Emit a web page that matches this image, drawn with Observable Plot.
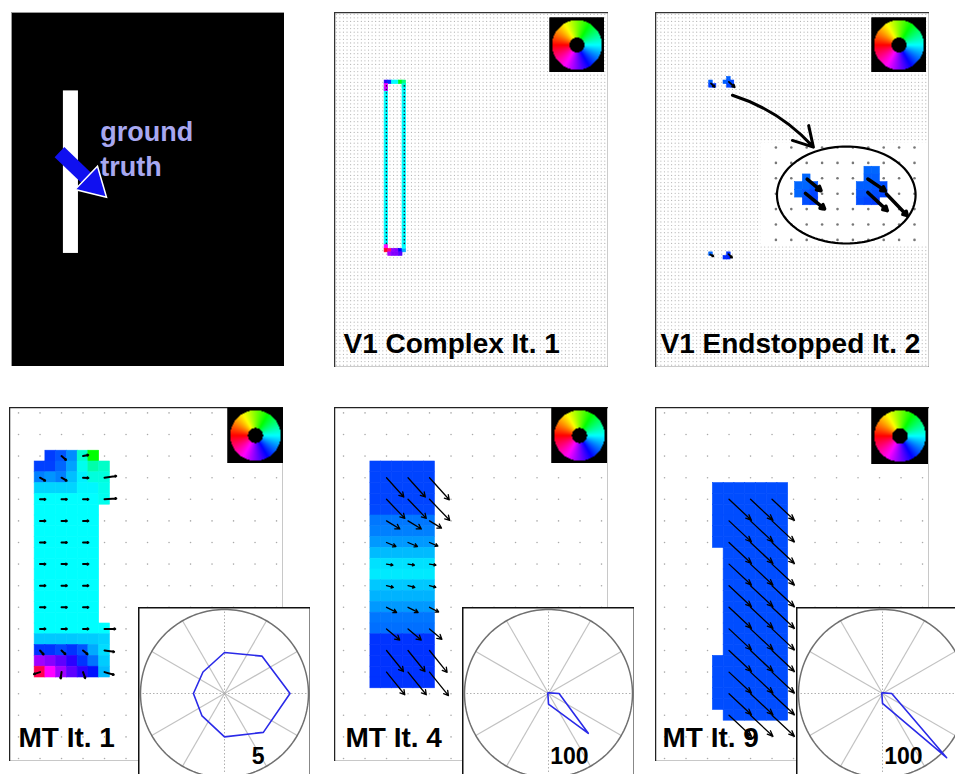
<!DOCTYPE html>
<html><head><meta charset="utf-8">
<script src="https://cdn.jsdelivr.net/npm/d3@7"></script>
<script src="https://cdn.jsdelivr.net/npm/@observablehq/plot@0.6"></script>
<style>
body{margin:0;background:#fff;}
#fig{position:relative;width:955px;height:774px;overflow:hidden;background:#fff;}
.pane{position:absolute;}
.pane svg{display:block;max-width:none;}
</style></head><body><div id="fig"></div>
<script>
// ================= DATA =================
const panelTitles = ["V1 Complex It. 1", "V1 Endstopped It. 2", "MT It. 1", "MT It. 4", "MT It. 9"];
const truthLabel = ["ground", "truth"];
const truthLabelAt = [24.8, 28.9];
// stimulus bar and its true motion (fine V1 grid units)
const barX = [14.5, 18.7];
const barY = [21.9, 67.3];
const truthTail = [13.4, 39.0];
const truthTip = [25.9, 51.0];

// V1 complex, iteration 1 : [col,row,direction in degrees]
const v1EdgeCols = [14, 19];
const v1EdgeRows = [20, 64];
const v1EdgeDir = 0;
const v1CapCells = [
  [14,19,-70],[15,19,-50],[16,19,0],[17,19,0],[18,19,55],[19,19,30],
  [14,20,-120],[14,21,-110],[19,20,10],
  [14,65,-120],[14,66,-170],[15,66,-150],[16,66,-95],[17,66,-90],[18,66,-60],[19,66,-20],[19,65,0],
  [15,67,-100],[16,67,-90],[17,67,-90],[18,67,-80]
];

// V1 endstopped, iteration 2
const esCells = [
  [15,19,-38],[15,20,-45],[16,20,-48],
  [20,18,-38],[19,19,-38],[20,19,-40],[21,19,-44],[20,20,-44],[21,20,-46],
  [15,67,-36],
  [20,67,-48],[19,68,-50],[20,68,-52]
];
const esArrows = [[15.5,19.8,-45,1.4],[20.5,19.4,-42,2.2],[15.3,67.6,-30,1.0],[20.4,67.5,-45,1.4]];
const esPointer = [[21.5, 23.1], [44.1, 37.6]];
// magnified view of the top end-stopped responses
const zoomCells = [
  [6,5,-36],[5,6,-36],[6,6,-36],[7,6,-40],[5,7,-36],[6,7,-40],[7,7,-44],[6,8,-42],[7,8,-46],
  [14,4,-36],[15,4,-36],[14,5,-38],[15,5,-38],
  [13,6,-38],[14,6,-38],[15,6,-40],[16,6,-42],[13,7,-40],[14,7,-40],[15,7,-42],[16,7,-44],
  [13,8,-42],[14,8,-44],[15,8,-46]
];
const zoomArrows = [[6.06,5.1,-40,2.35],[5.84,6.97,-39,3.2],[13.94,5.1,-34,2.75],[13.94,6.84,-43,3.46],[16.36,7.05,-46,3.9]];
const zoomEllipse = [11.14, 7.17, 9.0, 6.3];

// MT iteration 1 (rows 4..24, cols 2..8)
const mt1FirstRow = 4, mt1FirstCol = 2;
const mt1Dir = [
  [null,-46,-40,-27,12,60,null],
  [-45,-45,-36,-22,4,20,13],
  [-30,-25,-30,-15,-3,8,8],
  [-10,-10,-10,-10,-2,-2,5],
  [0,0,0,0,0,0,4],
  [0,0,0,0,0,0,null],[0,0,0,0,0,0,null],[0,0,0,0,0,0,null],[0,0,0,0,0,0,null],
  [0,0,0,0,0,0,null],[0,0,0,0,0,0,null],[0,0,0,0,0,0,null],[0,0,0,0,0,0,null],
  [0,0,0,0,0,0,null],[0,0,0,0,0,0,null],[0,0,0,0,0,0,null],
  [0,0,0,0,0,0,0],
  [-13,-13,-13,-13,-12,-12,-10],
  [-48,-48,-43,-48,-40,-20,-8],
  [-98,-92,-82,-70,-48,-33,-12],
  [-162,-120,-98,-82,-70,-56,-16]
];
const mt1ArrowRows = [4,6,8,10,12,14,16,18,20,22,24];
const mt1ArrowCols = [2,4,6,8];
const mt1ArrowLen = [
  [null,.55,.5,null],[.55,.55,.5,1.1],[.5,.5,.5,1.1],
  [.5,.5,.5,null],[.5,.5,.5,null],[.5,.5,.5,null],[.5,.5,.5,null],[.5,.5,.5,null],
  [.5,.5,.5,1.0],[.5,.5,.55,.9],[.6,.6,.6,.9]
];

// MT iteration 4 (rows 5..25, cols 3..8, one direction per row)
const mt4FirstRow = 5;
const mt4Cols = [3, 8];
const mt4Dir = [-44,-44,-44,-44,-43,-32,-30,-24,-16,-7,-5,-13,-18,-24,-32,-34,-48,-48,-48,-48,-48];
const mt4ArrowRows = [6,8,10,12,14,16,18,20,22,24];
const mt4ArrowCols = [4,6,8];
const mt4ArrowDir = [-48,-46,-31,-23,-9,-14,-27,-40,-51,-51];
const mt4ArrowLen = [[2.4,2.4,2.75],[2.45,2.45,2.7],[1.45,1.45,1.3],[0.95,0.95,0.85],[0.6,0.6,0.6],
  [0.65,0.65,0.6],[1.05,1.05,0.95],[1.6,1.6,1.5],[2.5,2.5,2.6],[2.7,2.7,2.8]];

// MT iteration 9: [rowFrom,rowTo,colFrom,colTo]
const mt9Spans = [[7,12,5,11],[13,22,6,11],[23,27,5,11],[28,28,6,11]];
const mt9Dir = -42;
const mt9ArrowRows = [8,10,12,14,16,18,20,22,24,26,28];
const mt9ArrowCols = [6,8,10];
const mt9ArrowDir = [-43,-43,-43,-43,-43,-43,-43,-43,-43,-43,-43];
const mt9ArrowLen = [2.85,2.85,2.85,2.85,2.85,2.85,2.85,2.85,2.85,2.85,2.85];

// polar histograms of MT directions
const polarDirs = [0,45,90,135,180,225,270,315];
const polarMT1 = [3.9,3.15,2.44,1.81,1.85,1.89,2.58,3.27];
const polarMT4 = [12.6,1,1,1,1,1,12.7,67];
const polarMT9 = [11,1,1,1,1,1,11.8,108];
const polarMax = [5,100,100];
const polarLabels = ["5","100","100"];

// ================= LAYOUT =================
const FONT = "Liberation Sans, Arial, sans-serif";
const V1 = 3.58, MTX = 10.75, MTY = 10.8, ZC = 7.7;
const box = {
  p1:{left:11,top:12,w:273,h:354}, p2:{left:334,top:12,w:274,h:355}, p3:{left:655,top:12,w:274,h:355},
  p4:{left:9,top:407,w:274,h:354}, p5:{left:334,top:407,w:274,h:354}, p6:{left:655,top:407,w:274,h:354}
};
const fig = document.getElementById("fig");
function place(node, left, top, w, h, z) {
  const d = document.createElement("div");
  d.className = "pane";
  Object.assign(d.style, {left: left+"px", top: top+"px", width: w+"px", height: h+"px", zIndex: z});
  d.appendChild(node); fig.appendChild(d);
}
const rad = a => a * Math.PI / 180;
function dirColor(dir) { const h = (((180 - dir) % 360) + 360) % 360; return d3.hsl(h, 1, 0.5).formatHex(); }
const tipX = d => d.x + d.len * Math.cos(rad(d.dir));
const tipY = d => d.y - d.len * Math.sin(rad(d.dir));
const toCell = ([c, r, dir]) => ({c, r, dir});
const toArrow = ([x, y, dir, len]) => ({x, y, dir, len});
function cellMarks(cells, off = 0) {
  return Plot.rect(cells, {x1: d => d.c - off, x2: d => d.c + 1 - off, y1: d => d.r - off, y2: d => d.r + 1 - off,
    fill: d => dirColor(d.dir), stroke: d => dirColor(d.dir), strokeWidth: 0.6});
}
function title(t, dx) {
  return Plot.text([t], {frameAnchor: "bottom-left", dx, dy: -34, lineAnchor: "top", textAnchor: "start",
    fontSize: 28, fontWeight: "bold", fontFamily: FONT, fill: "black"});
}
function v1Scales(b) {
  return {width: b.w, height: b.h, margin: 0,
    x: {domain: [0, b.w / V1], axis: null}, y: {domain: [0, b.h / V1], reverse: true, axis: null},
    color: {type: "identity"}};
}
function v1Dots(b) {
  return Plot.dot(d3.cross(d3.range(0, Math.floor(b.w / V1)), d3.range(0, Math.floor(b.h / V1))),
    {x: d => d[0] + 0.5, y: d => d[1] + 0.5, r: 0.6, fill: "#b4b4b4"});
}
function wheel(size) {
  const f = (x, y) => { const r = Math.hypot(x, y); return (r <= 0.9 && r >= 0.27) ? dirColor(Math.atan2(y, x) * 180 / Math.PI) : "#000000"; };
  const marks = [Plot.frame({fill: "black"})];
  if (typeof Plot.raster === "function") marks.push(Plot.raster({x1: -1, x2: 1, y1: -1, y2: 1, fill: f}));
  else {
    const g = d3.cross(d3.range(-1, 1, 0.04), d3.range(-1, 1, 0.04));
    marks.push(Plot.rect(g, {x1: d => d[0], x2: d => d[0] + 0.04, y1: d => d[1], y2: d => d[1] + 0.04, fill: d => f(d[0] + .02, d[1] + .02)}));
  }
  marks.push(Plot.dot([[-1, -1], [1, 1]], {x: d => d[0], y: d => d[1], r: 0, fill: "none"}));
  return Plot.plot({width: size, height: size, margin: 0, x: {domain: [-1, 1], axis: null}, y: {domain: [-1, 1], axis: null},
    color: {type: "identity"}, marks});
}

// ---------- Panel 1: ground truth ----------
{
  const b = box.p1;
  const t = {x1: truthTail[0], y1: truthTail[1], x2: truthTip[0], y2: truthTip[1]};
  const lerp = (k) => ({x: t.x1 + (t.x2 - t.x1) * k, y: t.y1 + (t.y2 - t.y1) * k});
  const ang = Math.atan2(t.x2 - t.x1, -(t.y2 - t.y1)) * 180 / Math.PI;
  const svg = Plot.plot({...v1Scales(b), style: {background: "black"}, marks: [
    Plot.frame({fill: "black", stroke: "#999"}),
    Plot.rect([0], {x1: barX[0], x2: barX[1], y1: barY[0], y2: barY[1], fill: "white"}),
    Plot.link([t], {x1: "x1", y1: "y1", x2: d => lerp(0.66).x, y2: d => lerp(0.66).y, stroke: "#1010f0", strokeWidth: 14}),
    Plot.dot([lerp(0.75)], {x: "x", y: "y", symbol: "triangle", r: 12, rotate: ang, fill: "#1010f0", stroke: "white", strokeWidth: 1.5}),
    Plot.text([truthLabel.join("\n")], {x: truthLabelAt[0], y: truthLabelAt[1], lineAnchor: "top", textAnchor: "start",
      lineHeight: 1.3, fontSize: 27, fontWeight: "bold", fontFamily: FONT, fill: "#a8a8f0"})
  ]});
  place(svg, b.left, b.top, b.w, b.h, 1);
}

// ---------- Panel 2: V1 complex ----------
{
  const b = box.p2;
  const edge = [];
  for (const c of v1EdgeCols) for (let r = v1EdgeRows[0]; r <= v1EdgeRows[1]; r++) edge.push({c, r, dir: v1EdgeDir});
  const svg = Plot.plot({...v1Scales(b), marks: [
    v1Dots(b),
    cellMarks(edge),
    cellMarks(v1CapCells.map(toCell)),
    Plot.dot(edge, {x: d => d.c + 0.5, y: d => d.r + 0.5, r: 0.8, fill: "#113"}),
    title(panelTitles[0], 9),
    Plot.frame({stroke: "#333", strokeWidth: 1.5})
  ]});
  place(svg, b.left, b.top, b.w, b.h, 1);
  place(wheel(55), 549, 17, 55, 55, 2);
}

// ---------- Panel 3: V1 endstopped ----------
{
  const b = box.p3;
  const arrows = esArrows.map(toArrow);
  const svg = Plot.plot({...v1Scales(b), marks: [
    v1Dots(b),
    cellMarks(esCells.map(toCell)),
    Plot.arrow(arrows, {x1: "x", y1: "y", x2: tipX, y2: tipY, stroke: "black", strokeWidth: 1.8, headLength: 2.5}),
    title(panelTitles[1], 5),
    Plot.frame({stroke: "#333", strokeWidth: 1.5})
  ]});
  place(svg, b.left, b.top, b.w, b.h, 1);
  // magnified inset
  const iw = 167, ih = 104;
  const idots = d3.cross(d3.range(2, 21, 2), d3.range(1, 14, 2));
  const [cx, cy, rx, ry] = zoomEllipse;
  const ell = d3.range(0, 361, 3).map(a => [cx + rx * Math.cos(rad(a)), cy + ry * Math.sin(rad(a))]);
  const inset = Plot.plot({width: iw, height: ih, margin: 0,
    x: {domain: [0, iw / ZC], axis: null}, y: {domain: [0.35, 0.35 + ih / ZC], reverse: true, axis: null},
    color: {type: "identity"}, marks: [
      Plot.frame({fill: "white"}),
      Plot.dot(idots, {x: d => d[0], y: d => d[1], r: 1.3, fill: "#777"}),
      cellMarks(zoomCells.map(toCell), 0.5),
      Plot.arrow(zoomArrows.map(toArrow), {x1: "x", y1: "y", x2: tipX, y2: tipY, stroke: "black", strokeWidth: 3.5, headLength: 2}),
      Plot.line(ell, {x: d => d[0], y: d => d[1], stroke: "black", strokeWidth: 2.2})
    ]});
  place(inset, 760, 142, iw, ih, 2);
  const pointer = Plot.plot({...v1Scales(b), style: {background: "transparent"}, marks: [
    Plot.arrow([esPointer], {x1: d => d[0][0], y1: d => d[0][1], x2: d => d[1][0], y2: d => d[1][1],
      bend: 15, stroke: "black", strokeWidth: 3, headLength: 11})
  ]});
  place(pointer, b.left, b.top, b.w, b.h, 3);
  place(wheel(55), 871, 17, 55, 55, 2);
}

// ---------- MT panels ----------
function mtPanel(b, cells, arrows, t, dx, arrowOpts) {
  const W = b.w / MTX, H = b.h / MTY;
  const dots = d3.cross(d3.range(0, Math.ceil(W), 2), d3.range(0, Math.ceil(H), 2));
  return Plot.plot({width: b.w, height: b.h, margin: 0,
    x: {domain: [-0.34, -0.34 + W], axis: null}, y: {domain: [0, H], reverse: true, axis: null},
    color: {type: "identity"}, marks: [
      Plot.dot(dots, {x: d => d[0] + 0.5, y: d => d[1] + 0.5, r: 0.8, fill: "#aaa"}),
      cellMarks(cells),
      Plot.arrow(arrows, {x1: "x", y1: "y", x2: tipX, y2: tipY, stroke: "black", ...arrowOpts}),
      title(t, dx),
      Plot.frame({stroke: "#222", strokeWidth: 1.5})
    ]});
}
{
  const cells = [], arrows = [];
  mt1Dir.forEach((row, i) => row.forEach((dir, j) => { if (dir != null) cells.push({c: mt1FirstCol + j, r: mt1FirstRow + i, dir}); }));
  mt1ArrowRows.forEach((r, i) => mt1ArrowCols.forEach((c, j) => {
    const len = mt1ArrowLen[i][j];
    if (len != null) arrows.push({x: c + 0.5, y: r + 0.5, dir: mt1Dir[r - mt1FirstRow][c - mt1FirstCol], len});
  }));
  const b = box.p4;
  place(mtPanel(b, cells, arrows, panelTitles[2], 9, {strokeWidth: 2, headLength: 0.8}), b.left, b.top, b.w, b.h, 1);
  place(wheel(56), 227, 407, 56, 56, 2);
}
{
  const cells = [], arrows = [];
  mt4Dir.forEach((dir, i) => { for (let c = mt4Cols[0]; c <= mt4Cols[1]; c++) cells.push({c, r: mt4FirstRow + i, dir}); });
  mt4ArrowRows.forEach((r, i) => mt4ArrowCols.forEach((c, j) => arrows.push({x: c + 0.5, y: r + 0.5, dir: mt4ArrowDir[i], len: mt4ArrowLen[i][j]})));
  const b = box.p5;
  place(mtPanel(b, cells, arrows, panelTitles[3], 11, {strokeWidth: 1.3, headLength: 6}), b.left, b.top, b.w, b.h, 1);
  place(wheel(56), 551, 407, 56, 56, 2);
}
{
  const cells = [], arrows = [];
  mt9Spans.forEach(([r0, r1, c0, c1]) => { for (let r = r0; r <= r1; r++) for (let c = c0; c <= c1; c++) cells.push({c, r, dir: mt9Dir}); });
  mt9ArrowRows.forEach((r, i) => mt9ArrowCols.forEach(c => arrows.push({x: c + 0.5, y: r + 0.5, dir: mt9ArrowDir[i], len: mt9ArrowLen[i]})));
  const b = box.p6;
  place(mtPanel(b, cells, arrows, panelTitles[4], 7, {strokeWidth: 1.3, headLength: 7, headAngle: 45}), b.left, b.top, b.w, b.h, 1);
  place(wheel(57), 871, 407, 57, 56, 2);
}

// ---------- polar insets ----------
function polar(values, vmax, label) {
  const S = 172, R = vmax * 86 / 84;
  const pts = polarDirs.map((a, i) => ({x: values[i] * Math.cos(rad(a)), y: values[i] * Math.sin(rad(a))}));
  const spokes = d3.range(0, 360, 30);
  const ring = d3.range(0, 361, 2).map(a => ({x: vmax * Math.cos(rad(a)), y: vmax * Math.sin(rad(a))}));
  const sp = (a) => ({x2: vmax * Math.cos(rad(a)), y2: vmax * Math.sin(rad(a))});
  return Plot.plot({width: S, height: S, margin: 0,
    x: {domain: [-R, R], axis: null}, y: {domain: [-R, R], axis: null}, marks: [
      Plot.frame({fill: "white"}),
      Plot.link(spokes.filter(a => a % 90).map(sp), {x1: 0, y1: 0, x2: "x2", y2: "y2", stroke: "#c2c2c2", strokeWidth: 1.2}),
      Plot.link(spokes.filter(a => a % 90 === 0).map(sp), {x1: 0, y1: 0, x2: "x2", y2: "y2", stroke: "#b0b0b0", strokeWidth: 1, strokeDasharray: "1.5,2"}),
      Plot.line(ring, {x: "x", y: "y", stroke: "#707070", strokeWidth: 1.5}),
      Plot.line(pts, {x: "x", y: "y", curve: "linear-closed", stroke: "#2a2ae8", strokeWidth: 1.6}),
      Plot.text([label], {frameAnchor: "bottom-right", dx: -46, dy: -32, lineAnchor: "top", textAnchor: "end",
        fontSize: 23, fontWeight: "bold", fontFamily: FONT, fill: "black"}),
      Plot.frame({stroke: "#111", strokeWidth: 2})
    ]});
}
place(polar(polarMT1, polarMax[0], polarLabels[0]), 138, 607, 172, 172, 4);
place(polar(polarMT4, polarMax[1], polarLabels[1]), 462, 607, 172, 172, 4);
place(polar(polarMT9, polarMax[2], polarLabels[2]), 796, 607, 172, 172, 4);
</script></body></html>
